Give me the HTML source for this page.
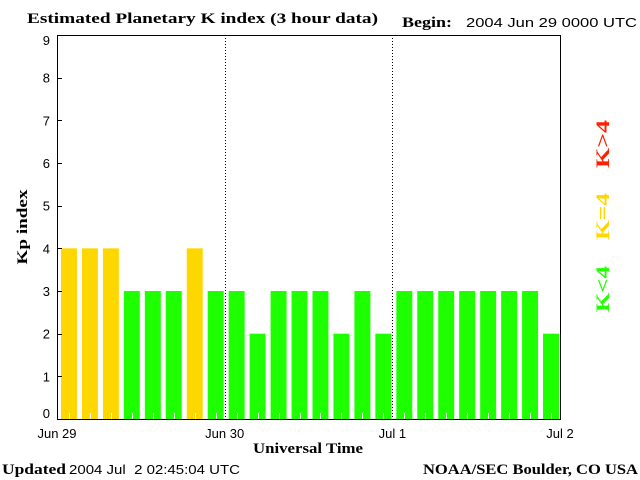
<!DOCTYPE html>
<html><head><meta charset="utf-8"><style>
body{margin:0;background:#fff;}
svg{display:block;}
.s{font-family:"Liberation Sans",sans-serif;font-size:13px;fill:#000;}
.b{font-family:"Liberation Serif",serif;font-weight:bold;font-size:15px;fill:#000;}
.lg{font-family:"Liberation Serif",serif;font-weight:bold;font-size:19px;}
</style></head><body>
<svg id="c" width="640" height="480" viewBox="0 0 640 480">
<text class="b" x="27" y="23" textLength="351" lengthAdjust="spacingAndGlyphs">Estimated Planetary K index (3 hour data)</text>
<text class="b" x="402" y="27" textLength="50" lengthAdjust="spacingAndGlyphs">Begin:</text>
<text class="s" x="466" y="27" textLength="171" lengthAdjust="spacingAndGlyphs">2004 Jun 29 0000 UTC</text>
<text class="b" transform="translate(27,227) rotate(-90)" text-anchor="middle" textLength="75" lengthAdjust="spacingAndGlyphs">Kp index</text>
<text class="b" x="253" y="453" textLength="110" lengthAdjust="spacingAndGlyphs">Universal Time</text>
<text class="b" x="2" y="474" textLength="64" lengthAdjust="spacingAndGlyphs">Updated</text>
<text class="s" x="69" y="474" textLength="171" lengthAdjust="spacingAndGlyphs" style="white-space:pre">2004 Jul  2 02:45:04 UTC</text>
<text class="b" x="423" y="474" textLength="215" lengthAdjust="spacingAndGlyphs">NOAA/SEC Boulder, CO USA</text>
<text class="lg" transform="translate(609,168) rotate(-90)" textLength="48" lengthAdjust="spacingAndGlyphs" style="fill:#ff2000">K&gt;4</text>
<text class="lg" transform="translate(609,240) rotate(-90)" textLength="47" lengthAdjust="spacingAndGlyphs" style="fill:#ffd700">K=4</text>
<text class="lg" transform="translate(609,312) rotate(-90)" textLength="46" lengthAdjust="spacingAndGlyphs" style="fill:#22ff00">K&lt;4</text>
<g id="g"></g>
</svg>
<script>
const kpValues=[4,4,4,3,3,3,4,3, 3,2,3,3,3,2,3,2, 3,3,3,3,3,3,3,2];
const yTicks=[0,1,2,3,4,5,6,7,8,9];
const dayLabels=["Jun 29","Jun 30","Jul 1","Jul 2"];
const L=57,R=560,T=35,B=419;
const NS="http://www.w3.org/2000/svg";
const g=document.getElementById('g');
const xDay=d=>L+d*(R-L)/3;
const xBar=i=>L+i*(R-L)/kpValues.length;
const y=v=>B-v*(B-T)/9;
function mk(t,a){const e=document.createElementNS(NS,t);for(const k in a)e.setAttribute(k,a[k]);g.appendChild(e);return e;}
const bw=(R-L)/kpValues.length;
kpValues.forEach((v,i)=>{
 const col=v>4?'#ff2000':(v==4?'#ffd700':'#1eff00');
 const r=mk('rect',{x:xBar(i)+4,y:y(v),width:bw-5,height:B-y(v),fill:col});
 
 
 const cx=Math.round(xBar(i)+4+(bw-5)/2)+0.5;
 const t=mk('line',{x1:cx,x2:cx,y1:B-6,y2:B,stroke:'#fff'});
 
 
});
[1,2].forEach(d=>{
 const l=mk('line',{x1:Math.round(xDay(d))+0.5,x2:Math.round(xDay(d))+0.5,y1:T,y2:B,stroke:'#000','stroke-dasharray':'1,2'});
 
 
});
const fr=mk('rect',{x:L+0.5,y:T+0.5,width:R-L,height:B-T,fill:'none',stroke:'#000'});


yTicks.forEach(v=>{
 const yy=Math.round(y(v))+0.5;
 const a=mk('line',{x1:L,x2:L+5,y1:yy,y2:yy,stroke:'#000'});
 
 
 const t=mk('text',{x:50,y:Math.min(Math.max(y(v)+5,45),418),'text-anchor':'end',class:'s','font-size':'15'});
 t.textContent=v;
 
 
});
dayLabels.forEach((s,d)=>{
 const t=mk('text',{x:xDay(d),y:438,'text-anchor':'middle',class:'s','font-size':'14'});
 t.textContent=s;
 
 
});
</script>
</body></html>
